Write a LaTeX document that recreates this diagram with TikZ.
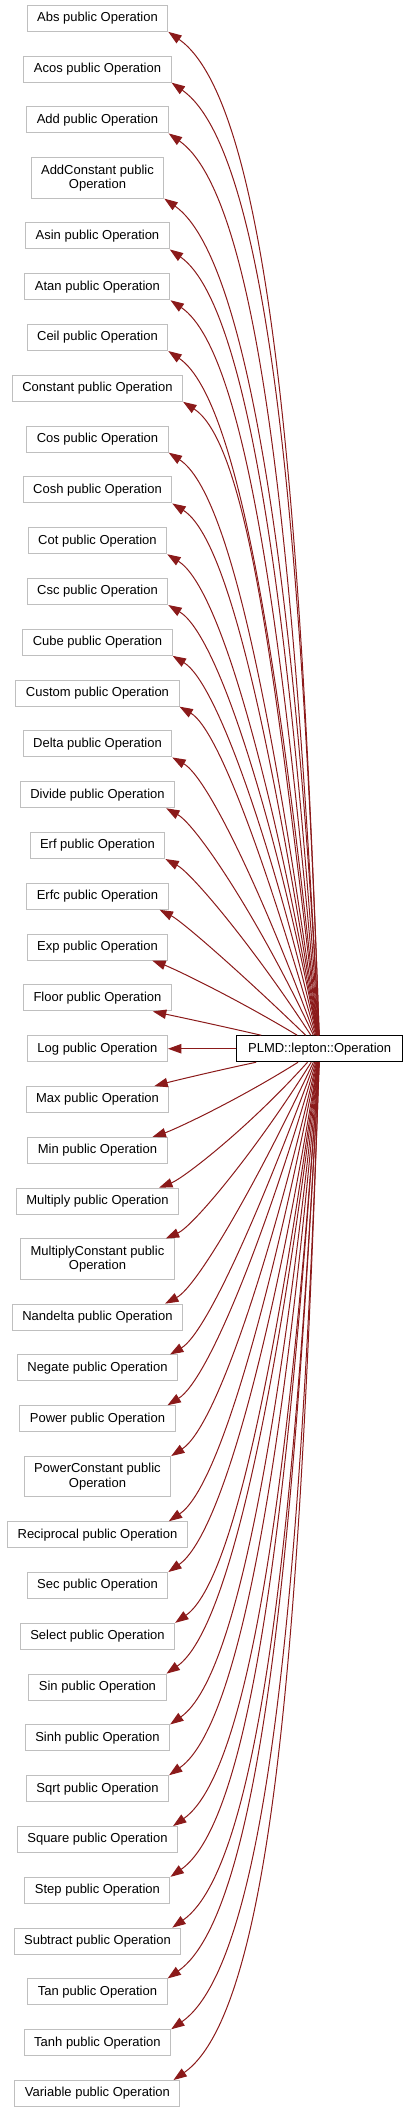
\documentclass[tikz,border=0pt]{standalone}
\usepackage{fontspec}
\setmainfont{Liberation Sans}
\usepackage{xcolor}
\usetikzlibrary{arrows.meta,positioning}
\definecolor{edgered}{HTML}{8B1A1A}
\definecolor{boxgray}{HTML}{BFBFBF}

\begin{document}
\begin{tikzpicture}[
  node distance=17.85pt,
  cls/.style={draw=boxgray, fill=white, line width=0.75pt, align=center, inner xsep=7.5pt, inner ysep=2pt, minimum height=19.5pt, font=\fontsize{9.75}{10.8}\selectfont},
  tall/.style={cls, minimum height=30.3pt},
  base/.style={cls, draw=black, inner xsep=8.5pt},
  arr/.style={-{Triangle[length=10pt, width=7pt]}, draw=edgered, line width=0.75pt, out looseness=1.2, in looseness=0.33}
]
\useasboundingbox (0,0) rectangle (308.25pt,-1584pt);
% derived classes, one column
\node[cls] (abs) at (73.1pt,-13.75pt) {Abs public Operation};
\node[cls, below=of abs] (acos) {Acos public Operation};
\node[cls, below=of acos] (add) {Add public Operation};
\node[tall, below=of add] (addconst) {AddConstant public\\ Operation};
\node[cls, below=of addconst] (asin) {Asin public Operation};
\node[cls, below=of asin] (atan) {Atan public Operation};
\node[cls, below=of atan] (ceil) {Ceil public Operation};
\node[cls, below=of ceil] (constant) {Constant public Operation};
\node[cls, below=of constant] (cos) {Cos public Operation};
\node[cls, below=of cos] (cosh) {Cosh public Operation};
\node[cls, below=of cosh] (cot) {Cot public Operation};
\node[cls, below=of cot] (csc) {Csc public Operation};
\node[cls, below=of csc] (cube) {Cube public Operation};
\node[cls, below=of cube] (custom) {Custom public Operation};
\node[cls, below=of custom] (delta) {Delta public Operation};
\node[cls, below=of delta] (divide) {Divide public Operation};
\node[cls, below=of divide] (erf) {Erf public Operation};
\node[cls, below=of erf] (erfc) {Erfc public Operation};
\node[cls, below=of erfc] (exp) {Exp public Operation};
\node[cls, below=of exp] (floor) {Floor public Operation};
\node[cls, below=of floor] (log) {Log public Operation};
\node[cls, below=of log] (max) {Max public Operation};
\node[cls, below=of max] (min) {Min public Operation};
\node[cls, below=of min] (multiply) {Multiply public Operation};
\node[tall, below=of multiply] (multconst) {MultiplyConstant public\\ Operation};
\node[cls, below=of multconst] (nandelta) {Nandelta public Operation};
\node[cls, below=of nandelta] (negate) {Negate public Operation};
\node[cls, below=of negate] (power) {Power public Operation};
\node[tall, below=of power] (powconst) {PowerConstant public\\ Operation};
\node[cls, below=of powconst] (reciprocal) {Reciprocal public Operation};
\node[cls, below=of reciprocal] (sec) {Sec public Operation};
\node[cls, below=of sec] (select) {Select public Operation};
\node[cls, below=of select] (sin) {Sin public Operation};
\node[cls, below=of sin] (sinh) {Sinh public Operation};
\node[cls, below=of sinh] (sqrt) {Sqrt public Operation};
\node[cls, below=of sqrt] (square) {Square public Operation};
\node[cls, below=of square] (step) {Step public Operation};
\node[cls, below=of step] (subtract) {Subtract public Operation};
\node[cls, below=of subtract] (tan) {Tan public Operation};
\node[cls, below=of tan] (tanh) {Tanh public Operation};
\node[cls, below=of tanh] (variable) {Variable public Operation};
% base class
\node[base, right=51.25pt of log] (plmd) {PLMD::lepton::Operation};
% upper fan
\draw[arr] (plmd) to[out=92, in=-35] (abs.south east);
\draw[arr] (plmd) to[out=92, in=-35] (acos.south east);
\draw[arr] (plmd) to[out=93, in=-35] (add.south east);
\draw[arr] (plmd) to[out=93, in=-35] (addconst.south east);
\draw[arr] (plmd) to[out=94, in=-35] (asin.south east);
\draw[arr] (plmd) to[out=95, in=-34] (atan.south east);
\draw[arr] (plmd) to[out=96, in=-34] (ceil.south east);
\draw[arr] (plmd) to[out=97, in=-33] (constant.south east);
\draw[arr] (plmd) to[out=98, in=-33] (cos.south east);
\draw[arr] (plmd) to[out=99, in=-32] (cosh.south east);
\draw[arr] (plmd) to[out=100, in=-32] (cot.south east);
\draw[arr] (plmd) to[out=101, in=-31] (csc.south east);
\draw[arr] (plmd) to[out=103, in=-31] (cube.south east);
\draw[arr] (plmd) to[out=106, in=-30] (custom.south east);
\draw[arr] (plmd) to[out=110, in=-29] (delta.south east);
\draw[arr] (plmd) to[out=115, in=-29] ([xshift=-6.75pt]divide.south east);
\draw[arr] (plmd) to[out=123, in=-28] (erf.south east);
\draw[arr] (plmd) to[out=136, in=-27] ([xshift=-6.75pt]erfc.south east);
\draw[arr] (plmd) to[out=149, in=-20] ([xshift=-12pt]exp.south east);
\draw[arr] (plmd) to[out=167, in=-12] ([xshift=-14.25pt]floor.south east);
\draw[arr] (plmd) -- (log);
% lower fan
\draw[arr] (plmd) to[out=192, in=15] ([xshift=-11.25pt]max.north east);
\draw[arr] (plmd) to[out=212, in=18] ([xshift=-11.25pt]min.north east);
\draw[arr] (plmd) to[out=228, in=21] ([xshift=-15pt]multiply.north east);
\draw[arr] (plmd) to[out=238, in=24] ([xshift=-6.75pt]multconst.north east);
\draw[arr] (plmd) to[out=245, in=28] ([xshift=-13.5pt]nandelta.north east);
\draw[arr] (plmd) to[out=250, in=30] ([xshift=-6pt]negate.north east);
\draw[arr] (plmd) to[out=254, in=32] ([xshift=-6pt]power.north east);
\draw[arr] (plmd) to[out=257, in=33] (powconst.north east);
\draw[arr] (plmd) to[out=259, in=34] ([xshift=-14.25pt]reciprocal.north east);
\draw[arr] (plmd) to[out=261, in=35] (sec.north east);
\draw[arr] (plmd) to[out=262, in=35] (select.north east);
\draw[arr] (plmd) to[out=263, in=35] (sin.north east);
\draw[arr] (plmd) to[out=264, in=35] (sinh.north east);
\draw[arr] (plmd) to[out=265, in=35] (sqrt.north east);
\draw[arr] (plmd) to[out=266, in=35] ([xshift=-3.75pt]square.north east);
\draw[arr] (plmd) to[out=266, in=35] (step.north east);
\draw[arr] (plmd) to[out=267, in=35] ([xshift=-6.75pt]subtract.north east);
\draw[arr] (plmd) to[out=267, in=35] (tan.north east);
\draw[arr] (plmd) to[out=268, in=35] (tanh.north east);
\draw[arr] (plmd) to[out=268, in=35] ([xshift=-5.25pt]variable.north east);
\end{tikzpicture}
\end{document}
